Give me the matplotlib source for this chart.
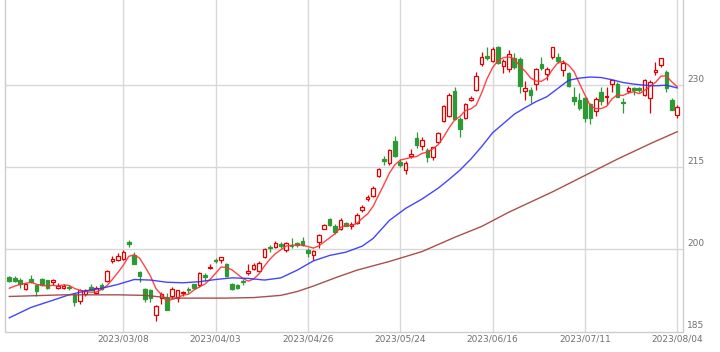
import matplotlib
matplotlib.use("Agg")
import matplotlib.pyplot as plt
import numpy as np
import pandas as pd

# daily candles (index 0 = first bar)
opens = [194.9, 194.8, 194.4, 192.7, 194.6, 193.5, 194.6, 194.4, 194.0, 192.9,
         193.0, 193.2, 191.7, 190.5, 191.8, 193.2, 192.0, 193.5, 194.3, 197.9,
         198.0, 198.2, 201.3, 198.9, 195.8, 192.7, 192.6, 188.1, 191.2, 191.2,
         191.5, 191.1, 192.0, 192.7, 193.6, 193.5, 195.3, 196.6, 198.1, 198.0,
         197.3, 193.7, 193.5, 194.2, 195.7, 196.4, 196.1, 198.7, 200.5, 200.5,
         200.9, 199.8, 200.8, 201.1, 201.5, 199.9, 198.9, 201.4, 203.8, 205.5,
         204.3, 203.7, 204.9, 204.3, 204.9, 207.2, 209.2, 209.8, 213.5, 216.5,
         215.7, 219.8, 216.0, 214.5, 217.1, 220.4, 218.9, 218.1, 216.8, 219.7,
         223.5, 224.4, 228.9, 223.9, 224.1, 227.3, 229.2, 233.8, 235.3, 234.4,
         237.0, 233.5, 232.9, 234.9, 234.8, 229.0, 229.2, 230.2, 233.8, 232.0,
         235.2, 235.2, 232.7, 232.2, 227.8, 227.3, 227.7, 226.6, 225.2, 228.7,
         227.8, 230.3, 230.3, 227.0, 229.0, 229.4, 229.5, 228.2, 227.6, 232.4,
         233.7, 232.5, 227.3, 224.6]
highs = [195.2, 195.1, 194.7, 193.8, 195.3, 193.6, 194.7, 194.5, 194.6, 193.8,
         193.7, 193.5, 192.0, 192.8, 192.8, 193.6, 193.3, 193.8, 196.3, 198.8,
         199.3, 199.9, 201.7, 199.5, 196.0, 192.9, 192.8, 189.8, 192.3, 192.0,
         193.2, 192.6, 192.4, 193.2, 193.7, 195.9, 195.7, 197.3, 198.4, 198.6,
         197.5, 193.8, 193.6, 194.6, 197.3, 197.5, 197.8, 200.2, 200.8, 201.5,
         201.4, 201.4, 202.0, 201.4, 202.3, 200.3, 199.8, 202.9, 204.6, 205.8,
         204.6, 205.7, 205.0, 205.0, 206.6, 208.1, 209.9, 211.5, 214.8, 217.1,
         218.4, 220.8, 216.6, 216.1, 218.3, 221.5, 220.5, 218.6, 218.8, 221.5,
         226.4, 228.6, 229.6, 224.2, 226.8, 228.0, 232.5, 236.1, 236.9, 237.0,
         237.1, 234.8, 236.5, 235.8, 235.2, 230.7, 229.7, 233.1, 235.2, 233.4,
         237.0, 235.8, 234.6, 232.5, 229.7, 228.5, 227.9, 226.7, 227.9, 229.7,
         229.7, 231.0, 230.6, 227.6, 229.9, 229.7, 229.7, 231.2, 231.0, 234.3,
         235.0, 232.8, 227.6, 226.4]
lows = [194.1, 194.1, 192.9, 192.5, 193.8, 191.5, 193.3, 192.8, 193.5, 192.8,
        192.7, 192.6, 189.7, 190.0, 191.5, 192.5, 191.8, 192.6, 194.0, 197.6,
        197.8, 198.0, 200.5, 197.3, 194.1, 190.3, 190.3, 186.9, 190.0, 189.0,
        191.1, 190.3, 191.4, 192.1, 192.8, 193.2, 194.2, 196.4, 197.6, 197.5,
        195.0, 192.5, 192.7, 193.5, 195.4, 196.2, 195.9, 198.5, 199.5, 200.2,
        200.2, 199.5, 200.2, 200.5, 200.7, 198.7, 198.1, 200.2, 203.7, 204.2,
        202.9, 203.5, 204.2, 203.7, 204.6, 206.9, 208.9, 209.6, 213.2, 215.4,
        215.4, 216.8, 215.1, 213.7, 216.7, 218.6, 218.1, 216.0, 216.3, 219.4,
        223.2, 224.2, 223.6, 220.5, 223.8, 227.1, 229.0, 233.5, 234.6, 234.2,
        233.9, 232.3, 232.5, 233.0, 228.5, 227.3, 226.7, 229.1, 232.8, 231.0,
        234.8, 234.0, 231.6, 229.7, 226.3, 225.5, 223.2, 223.0, 224.4, 226.3,
        226.4, 228.8, 227.8, 225.0, 228.5, 228.2, 228.8, 228.0, 224.9, 231.9,
        233.4, 228.8, 225.4, 224.1]
closes = [194.3, 194.3, 193.7, 193.7, 194.0, 192.4, 193.5, 192.9, 194.4, 193.4,
          193.4, 192.9, 190.3, 192.6, 192.5, 192.6, 193.0, 192.8, 196.1, 198.2,
          198.8, 199.6, 201.0, 197.4, 195.2, 190.9, 191.1, 189.7, 191.8, 189.0,
          192.8, 192.5, 192.2, 192.5, 192.9, 195.6, 195.0, 196.8, 197.9, 198.6,
          195.2, 192.8, 192.9, 194.0, 196.1, 197.1, 197.6, 200.1, 200.2, 201.1,
          200.6, 201.1, 200.6, 200.8, 200.8, 199.3, 199.7, 202.6, 204.5, 204.5,
          203.1, 205.4, 204.3, 204.6, 206.3, 207.8, 209.5, 211.2, 214.6, 216.2,
          218.2, 217.1, 215.5, 215.8, 217.4, 219.0, 220.0, 216.8, 218.7, 221.2,
          226.2, 228.2, 223.9, 222.0, 226.6, 227.7, 231.7, 235.1, 235.0, 236.6,
          234.1, 234.4, 235.7, 233.4, 229.9, 229.4, 228.2, 232.9, 233.2, 232.9,
          236.9, 234.5, 234.1, 229.9, 227.2, 225.9, 224.1, 224.1, 227.4, 227.1,
          228.0, 230.9, 227.9, 226.7, 229.4, 229.1, 229.2, 230.9, 230.5, 232.8,
          234.9, 229.4, 225.5, 226.0]
# closes of the four sessions before the first bar (for the 5-day average)
prior_closes = [192.3, 192.2, 192.7, 193.0]

# 25-day and 75-day averages, read at a few bars
ma25_idx = [0, 4, 8, 11, 14, 17, 20, 23, 26, 29, 32, 35, 38, 41, 44, 47, 50, 53,
            56, 59, 62, 65, 67, 70, 73, 76, 79, 81, 83, 85, 87, 89, 91, 93, 95,
            97, 99, 101, 103, 105, 107, 109, 111, 113, 115, 117, 119, 121, 123]
ma25 = [187.5, 189.4, 190.7, 191.7, 192.4, 192.9, 193.6, 194.5, 194.4, 194.0,
        193.9, 194.1, 194.5, 194.8, 194.7, 194.4, 194.8, 196.2, 197.9, 198.9,
        199.5, 200.6, 202.0, 205.3, 207.5, 209.2, 211.2, 212.8, 214.5, 216.5,
        218.8, 221.3, 223.0, 224.7, 225.9, 227.0, 227.9, 229.4, 230.9, 231.3,
        231.5, 231.4, 231.0, 230.5, 230.2, 230.0, 229.9, 230.0, 229.5]
ma75_idx = [0, 10, 20, 25, 30, 40, 45, 50, 53, 56, 60, 64, 70, 76, 82, 87, 92,
            100, 106, 112, 118, 123]
ma75 = [191.4, 191.7, 191.7, 191.6, 191.1, 191.1, 191.2, 191.6, 192.3, 193.3,
        194.8, 196.2, 197.8, 199.6, 202.2, 204.2, 206.8, 210.5, 213.5, 216.5,
        219.3, 221.5]

tick_idx = [21, 38, 55, 72, 89, 106, 123]
tick_labels = ['2023/03/08', '2023/04/03', '2023/04/26', '2023/05/24',
               '2023/06/16', '2023/07/11', '2023/08/04']
y_ticks = [185, 200, 215, 230]

UP = '#e00000'
DOWN = '#2e9a36'
GRID = '#d8d8d8'
TXT = '#707070'

fig = plt.figure(figsize=(7.2, 3.52), dpi=100)
ax = fig.add_axes([5 / 720, 20.5 / 352, 678 / 720, 331.5 / 352])

x = np.arange(len(opens))
o = np.array(opens)
h = np.array(highs)
l = np.array(lows)
c = np.array(closes)
up = c >= o

# grid
for t in tick_idx:
    ax.axvline(t, color=GRID, lw=1, zorder=0)
for v in y_ticks[1:]:
    ax.axhline(v, color=GRID, lw=1, zorder=0)

# wicks
ax.vlines(x[up], l[up], h[up], color=UP, lw=0.9, zorder=2)
ax.vlines(x[~up], l[~up], h[~up], color=DOWN, lw=0.9, zorder=2)

# bodies
w = 0.66
ax.bar(x[up], np.maximum(c[up] - o[up], 0.08), bottom=o[up], width=w,
       facecolor='white', edgecolor=UP, lw=0.9, zorder=3)
ax.bar(x[~up], np.maximum(o[~up] - c[~up], 0.08), bottom=c[~up], width=w,
       facecolor=DOWN, edgecolor=DOWN, lw=0.9, zorder=3)

# moving averages
ma5 = pd.Series(prior_closes + closes).rolling(5).mean().to_numpy()[4:]
ax.plot(x, ma5, color='#ff3030', lw=1.0, alpha=0.9, zorder=4)
ax.plot(ma25_idx, ma25, color='#3030ff', lw=1.0, alpha=0.9, zorder=4)
ax.plot(ma75_idx, ma75, color='#a03c3c', lw=1.0, alpha=0.9, zorder=4)

ax.set_xlim(-0.79, 124.07)
ax.set_ylim(185, 245.57)

for s in ['left', 'right', 'bottom']:
    ax.spines[s].set_color('#cccccc')
    ax.spines[s].set_linewidth(1)
ax.spines['top'].set_visible(False)

ax.set_xticks(tick_idx)
ax.set_xticklabels(tick_labels)
ax.tick_params(axis='x', length=0, pad=2.5, labelsize=6.5, labelcolor=TXT)
ax.set_yticks([])
for v in y_ticks:
    ax.annotate(str(v), xy=(1, v), xycoords=('axes fraction', 'data'),
                xytext=(4, 3.5), textcoords='offset pixels', va='baseline',
                ha='left', fontsize=6.5, color=TXT)

fig.savefig('out.png', dpi=100)
